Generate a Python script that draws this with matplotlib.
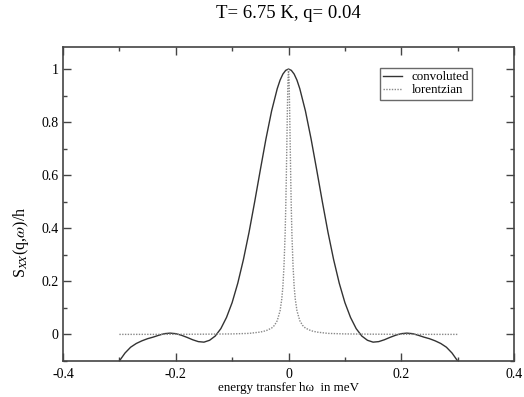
import matplotlib
matplotlib.use('Agg')
import matplotlib.pyplot as plt
from matplotlib.ticker import MultipleLocator

plt.rcParams['font.family'] = ['Liberation Serif', 'DejaVu Serif']
plt.rcParams['mathtext.fontset'] = 'stix'

# convoluted spectrum, energy transfer in meV
conv_x = [-0.30, -0.29, -0.28, -0.27, -0.26, -0.25, -0.24, -0.23, -0.22, -0.21,
          -0.20, -0.19, -0.18, -0.17, -0.16, -0.15, -0.14, -0.13, -0.12, -0.11,
          -0.10, -0.09, -0.08, -0.07, -0.06, -0.05, -0.04, -0.03, -0.02, -0.015,
          -0.01, -0.005, 0.00, 0.005, 0.01, 0.015, 0.02, 0.03, 0.04, 0.05,
          0.06, 0.07, 0.08, 0.09, 0.10, 0.11, 0.12, 0.13, 0.14, 0.15,
          0.16, 0.17, 0.18, 0.19, 0.20, 0.21, 0.22, 0.23, 0.24, 0.25,
          0.26, 0.27, 0.28, 0.29, 0.30]
conv_y = [-0.100, -0.070, -0.048, -0.034, -0.024, -0.016, -0.010, -0.003, 0.003, 0.005,
          0.003, -0.003, -0.011, -0.020, -0.027, -0.029, -0.022, -0.006, 0.022, 0.064,
          0.120, 0.193, 0.282, 0.385, 0.500, 0.620, 0.737, 0.842, 0.926, 0.958,
          0.981, 0.995, 1.000, 0.995, 0.981, 0.958, 0.926, 0.842, 0.737, 0.620,
          0.500, 0.385, 0.282, 0.193, 0.120, 0.064, 0.022, -0.006, -0.022, -0.029,
          -0.027, -0.020, -0.011, -0.003, 0.003, 0.005, 0.003, -0.003, -0.010, -0.016,
          -0.024, -0.034, -0.048, -0.070, -0.100]

# bare lorentzian line
lor_x = [-0.30, -0.20, -0.15, -0.10, -0.07, -0.05, -0.04, -0.03, -0.025, -0.02,
         -0.015, -0.012, -0.010, -0.008, -0.006, -0.005, -0.004, -0.003, -0.002, -0.001,
         0.0, 0.001, 0.002, 0.003, 0.004, 0.005, 0.006, 0.008, 0.010, 0.012,
         0.015, 0.02, 0.025, 0.03, 0.04, 0.05, 0.07, 0.10, 0.15, 0.20, 0.30]
lor_y = [0.0002, 0.0005, 0.001, 0.002, 0.004, 0.009, 0.014, 0.024, 0.034, 0.052,
         0.089, 0.133, 0.18, 0.26, 0.38, 0.47, 0.58, 0.71, 0.847, 0.957,
         1.0, 0.957, 0.847, 0.71, 0.58, 0.47, 0.38, 0.26, 0.18, 0.133,
         0.089, 0.052, 0.034, 0.024, 0.014, 0.009, 0.004, 0.002, 0.001, 0.0005, 0.0002]

x_ticks = [-0.4, -0.2, 0, 0.2, 0.4]
x_ticklabels = ['-0.4', '-0.2', '0', '0.2', '0.4']
y_ticks = [0, 0.2, 0.4, 0.6, 0.8, 1]
y_ticklabels = ['0', '0.2', '0.4', '0.6', '0.8', '1']

fig = plt.figure(figsize=(5.24, 3.97), dpi=100)
ax = fig.add_axes([0.1202, 0.0907, 0.8608, 0.7909])

ax.plot(conv_x, conv_y, color='#333333', lw=1.0, label='convoluted')
ax.plot(lor_x, lor_y, color='#888888', lw=1.0, ls=(0, (1, 1)), label='lorentzian')

ax.set_xlim(-0.4, 0.4)
ax.set_ylim(-0.1, 1.083)
ax.set_xticks(x_ticks)
ax.set_xticklabels(x_ticklabels)
ax.set_yticks(y_ticks)
ax.set_yticklabels(y_ticklabels)
ax.xaxis.set_minor_locator(MultipleLocator(0.1))
ax.yaxis.set_minor_locator(MultipleLocator(0.1))
ax.tick_params(which='both', direction='in', top=True, right=True, color='#444444', width=1.0, labelsize=10)
ax.tick_params(which='major', length=6)
ax.tick_params(which='minor', length=3)
ax.tick_params(axis='x', pad=5)
ax.tick_params(axis='y', pad=3)
for s in ax.spines.values():
    s.set_color('#444444')
    s.set_linewidth(1.2)

ax.set_xlabel('energy transfer h\u03c9  in meV', fontsize=9.4, labelpad=1)
ax.set_ylabel(r'S$_{XX}$(q,$\omega$)/h', fontsize=11.5)
ax.yaxis.set_label_coords(-0.07, 0.379)
fig.text(0.55, 0.967, 'T= 6.75 K, q= 0.04', ha='center', va='center', fontsize=13.5)

leg = ax.legend(loc='upper right', bbox_to_anchor=(0.907, 0.933), fontsize=9.4, frameon=True, fancybox=False,
                handlelength=1.4, borderpad=0.25, labelspacing=0.05, handletextpad=0.75, borderaxespad=0)
leg.get_frame().set_edgecolor('#444444')
leg.get_frame().set_linewidth(1.0)

fig.savefig('out.png', dpi=100)
